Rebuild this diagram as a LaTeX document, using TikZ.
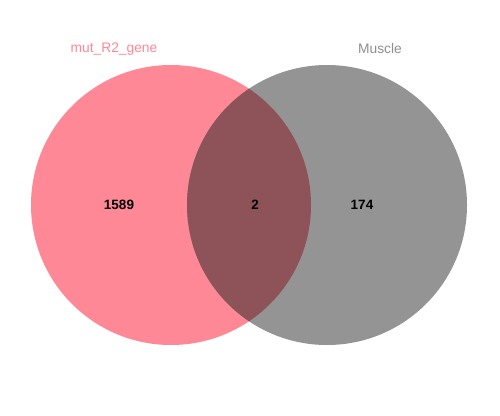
\documentclass[tikz,border=0pt]{standalone}
\usepackage{fontspec}
\setmainfont{Liberation Sans}
\definecolor{pinkc}{HTML}{FF8896}
\definecolor{greyc}{HTML}{939493}
\definecolor{midc}{HTML}{8E5358}
\definecolor{pinklab}{HTML}{FF8896}
\definecolor{greylab}{HTML}{8F8F8F}
\tikzset{
  setlabel/.style={font=\fontsize{13.8}{16}\selectfont, inner sep=0pt},
  countlabel/.style={font=\fontsize{13.5}{15}\selectfont\bfseries, inner sep=0pt, text=black},
}
\begin{document}
\begin{tikzpicture}[x=1pt,y=-1pt]
\useasboundingbox (0,0) rectangle (500,415);
\fill[white] (0,0) rectangle (500,415);
\fill[pinkc] (171,205) circle (140);
\fill[greyc] (327,205) circle (140);
\begin{scope}
\clip (171,205) circle (140);
\fill[midc] (327,205) circle (140);
\end{scope}
\node[setlabel, text=pinklab] (lA) at (114,49) {mut\_R2\_gene};
\node[setlabel, text=greylab] (lB) at (380,49) {Muscle};
\node[countlabel] (nA) at (119,205) {1589};
\node[countlabel] (nAB) at (255,205) {2};
\node[countlabel] (nB) at (362,205) {174};
\end{tikzpicture}
\end{document}
